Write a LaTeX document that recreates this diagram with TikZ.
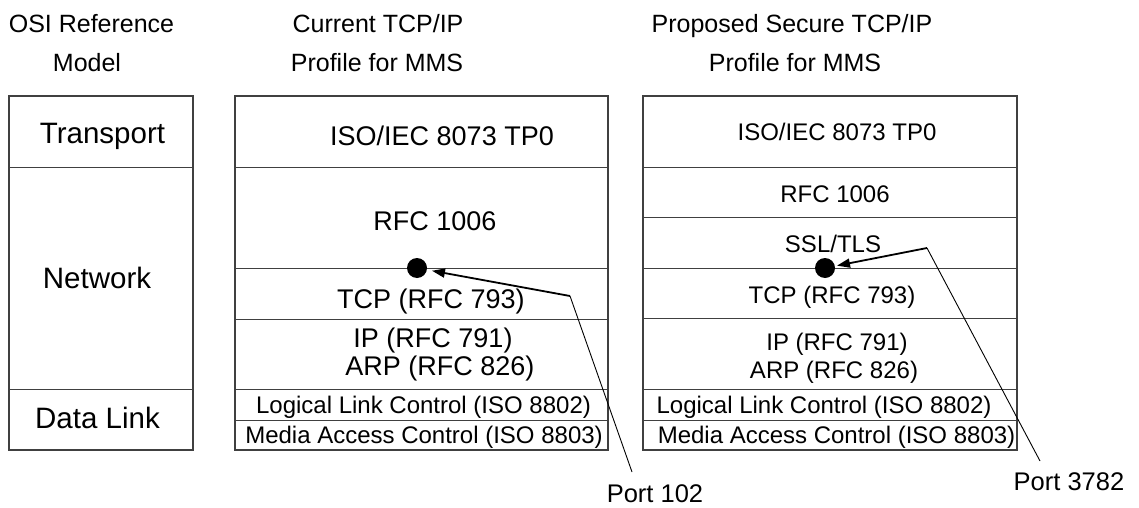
\documentclass[tikz,border=0pt]{standalone}
\usepackage{fontspec}
\setmainfont{Liberation Sans}
\usetikzlibrary{arrows.meta}
\begin{document}
\begin{tikzpicture}[x=1pt,y=-1pt,
  lbl/.style={anchor=base,inner sep=0pt,text=black},
  fhead/.style={lbl,font=\fontsize{25}{30}\selectfont},
  fosi/.style={lbl,font=\fontsize{29.5}{35}\selectfont},
  fmid/.style={lbl,font=\fontsize{27}{32}\selectfont},
  fsm/.style={lbl,font=\fontsize{24}{29}\selectfont},
  fport/.style={lbl,font=\fontsize{25.5}{30}\selectfont},
  frame/.style={draw=black!75,line width=1.2pt},
  sep/.style={draw=black!75,line width=1pt},
  portdot/.style={circle,fill=black,inner sep=0pt,minimum size=20pt},
  thick arrow/.style={draw=black,line width=1.8pt,-{Triangle[length=13pt,width=9pt]}},
  thin line/.style={draw=black,line width=0.9pt}]
\useasboundingbox (0,0) rectangle (1139,508);
\fill[white] (0,0) rectangle (1139,508);

% headers
\node[fhead] (h1a) at (91.5,33) {OSI Reference};
\node[fhead] (h1b) at (87,72) {Model};
\node[fhead] (h2a) at (378,33) {Current TCP/IP};
\node[fhead] (h2b) at (377,72) {Profile for MMS};
\node[fhead] (h3a) at (792,33) {Proposed Secure TCP/IP};
\node[fhead] (h3b) at (795,72) {Profile for MMS};

% OSI box
\draw[frame] (9,96) rectangle (193,450);
\draw[sep] (9,167) -- (193,167);
\draw[sep] (9,389) -- (193,389);
\node[fosi] (osiT) at (102.5,143) {Transport};
\node[fosi] (osiN) at (97,288) {Network};
\node[fosi] (osiD) at (97.5,428) {Data Link};

% current profile
\draw[frame] (235,96) rectangle (608,450);
\foreach \yy in {167,268,319,389,420} \draw[sep] (235,\yy) -- (608,\yy);
\node[fmid] (mISO) at (442,145) {ISO/IEC 8073 TP0};
\node[fmid] (mRFC) at (435,230) {RFC 1006};
\node[fmid] (mTCP) at (431,308) {TCP (RFC 793)};
\node[fmid] (mIP) at (433,347) {IP (RFC 791)};
\node[fmid] (mARP) at (440,375) {ARP (RFC 826)};
\node[fsm] (mLLC) at (423.5,413) {Logical Link Control (ISO 8802)};
\node[fsm] (mMAC) at (424,443.5) {Media Access Control (ISO 8803)};

% proposed profile
\draw[frame] (643,96) rectangle (1017,450);
\foreach \yy in {167,217,268,318,389,420} \draw[sep] (643,\yy) -- (1017,\yy);
\node[fsm] (pISO) at (837,140) {ISO/IEC 8073 TP0};
\node[fsm] (pRFC) at (835,202) {RFC 1006};
\node[fsm] (pSSL) at (833,252) {SSL/TLS};
\node[fsm] (pTCP) at (832,303) {TCP (RFC 793)};
\node[fsm] (pIP) at (837,350) {IP (RFC 791)};
\node[fsm] (pARP) at (834,378) {ARP (RFC 826)};
\node[fsm] (pLLC) at (824,413) {Logical Link Control (ISO 8802)};
\node[fsm] (pMAC) at (836.5,443.5) {Media Access Control (ISO 8803)};

% port dots
\node[portdot] (dot1) at (417,268) {};
\node[portdot] (dot2) at (825,268) {};

% port labels
\node[fport] (port1) at (655,502) {Port 102};
\node[fport] (port2) at (1069,490) {Port 3782};
\coordinate (e1) at (632,472);
\coordinate (e2) at (1040,461);
\coordinate (k1) at (570,296);
\coordinate (k2) at (927,248);

\draw[thin line] (e1) -- (k1);
\draw[thick arrow,shorten >=5pt] (k1) -- (dot1);
\draw[thin line] (e2) -- (k2);
\draw[thick arrow,shorten >=2pt] (k2) -- (dot2);
\end{tikzpicture}
\end{document}
